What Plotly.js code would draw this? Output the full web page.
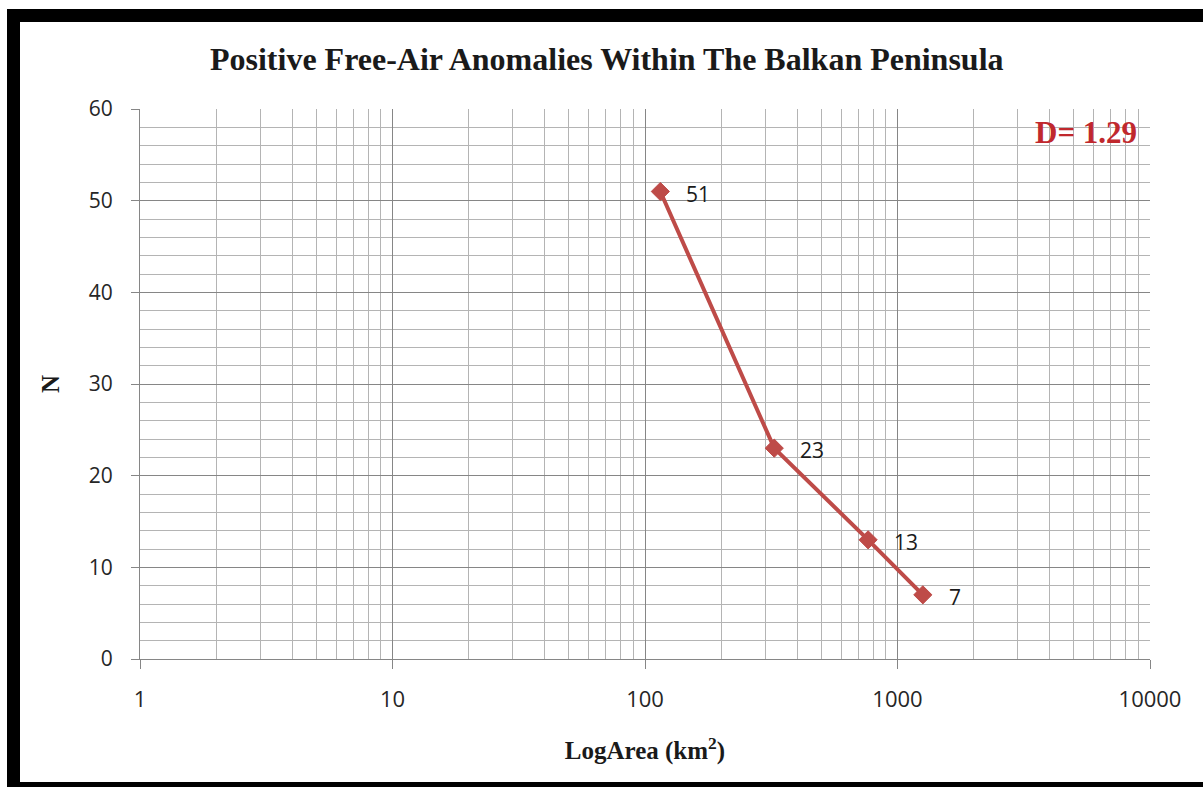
<!DOCTYPE html>
<html>
<head>
<meta charset="utf-8">
<script src="https://cdn.plot.ly/plotly-3.0.1.min.js"></script>
<style>
  html, body { margin: 0; padding: 0; background: #ffffff; overflow: hidden; }
  #frame { position: absolute; left: 7px; top: 9px; width: 1196px; height: 760px;
           border-left: 13px solid #000; border-top: 13px solid #000; border-bottom: 5px solid #000;
           box-sizing: content-box; }
  #chart { width: 1183px; height: 760px; background: #ffffff; }
</style>
</head>
<body>
<div id="frame"><div id="chart"></div></div>
<script>
// Data
const areas = [115, 325, 765, 1260];        // km^2 (log x axis)
const counts = [51, 23, 13, 7];             // N
const pointLabels = ["51", "23", "13", "7"];
const xTickVals = [1, 10, 100, 1000, 10000];
const xTickText = ["1", "10", "100", "1000", "10000"];
const yTickVals = [0, 10, 20, 30, 40, 50, 60];
const titleText = "Positive Free-Air Anomalies Within The Balkan Peninsula";
const dimensionText = "D= 1.29";

const red = "#BE4B48";
const serif = "Liberation Serif, Times New Roman, serif";
const sans = "Open Sans, Liberation Sans, sans-serif";

const trace = {
  x: areas,
  y: counts,
  type: "scatter",
  mode: "lines+markers",
  line: { color: red, width: 4 },
  marker: { symbol: "diamond", size: 14, color: red, line: { color: red, width: 1 } },
  hoverinfo: "x+y",
  showlegend: false
};

const labelAnnotations = areas.map((a, i) => ({
  x: Math.log10(a),
  y: counts[i],
  xref: "x",
  yref: "y",
  text: pointLabels[i],
  showarrow: false,
  xanchor: "left",
  yanchor: "middle",
  xshift: 24,
  yshift: -2,
  font: { family: sans, size: 21, color: "#1a1a1a" }
}));

const layout = {
  width: 1183,
  height: 760,
  paper_bgcolor: "#ffffff",
  plot_bgcolor: "#ffffff",
  margin: { l: 120, r: 53, t: 87, b: 123 },
  title: {
    text: "<b>" + titleText + "</b>",
    font: { family: serif, size: 32, color: "#1a1a1a" },
    x: 0.496,
    xanchor: "center",
    y: 0.951,
    yanchor: "middle",
    yref: "container"
  },
  xaxis: {
    type: "log",
    range: [0, 4],
    tickmode: "array",
    tickvals: xTickVals,
    ticktext: xTickText,
    ticks: "outside",
    ticklen: 9,
    tickwidth: 1,
    tickcolor: "#868686",
    ticklabelstandoff: 12,
    tickfont: { family: sans, size: 22, color: "#262626" },
    showgrid: true,
    gridcolor: "#868686",
    gridwidth: 1,
    minor: { dtick: "D1", showgrid: true, gridcolor: "#b4b4b4", gridwidth: 1, ticks: "" },
    showline: true,
    linecolor: "#868686",
    linewidth: 1,
    zeroline: false,
    title: {
      text: "<b>LogArea (km<sup>2</sup>)</b>",
      font: { family: serif, size: 25, color: "#1a1a1a" },
      standoff: 29
    }
  },
  yaxis: {
    range: [0, 60],
    tickmode: "array",
    tickvals: yTickVals,
    ticks: "outside",
    ticklen: 8,
    tickwidth: 1,
    tickcolor: "#868686",
    ticklabelstandoff: 14,
    tickfont: { family: sans, size: 21, color: "#262626" },
    showgrid: true,
    gridcolor: "#868686",
    gridwidth: 1,
    minor: { dtick: 2, showgrid: true, gridcolor: "#b4b4b4", gridwidth: 1, ticks: "" },
    showline: true,
    linecolor: "#868686",
    linewidth: 1,
    zeroline: false,
    title: {
      text: "<b>N</b>",
      font: { family: serif, size: 25, color: "#1a1a1a" },
      standoff: 22
    }
  },
  annotations: labelAnnotations.concat([{
    x: 0.9366,
    y: 0.958,
    xref: "paper",
    yref: "paper",
    text: "<b>" + dimensionText + "</b>",
    showarrow: false,
    xanchor: "center",
    yanchor: "middle",
    font: { family: serif, size: 31, color: "#C0282D" }
  }])
};

Plotly.newPlot("chart", [trace], layout, { displayModeBar: false, staticPlot: true });
</script>
</body>
</html>
